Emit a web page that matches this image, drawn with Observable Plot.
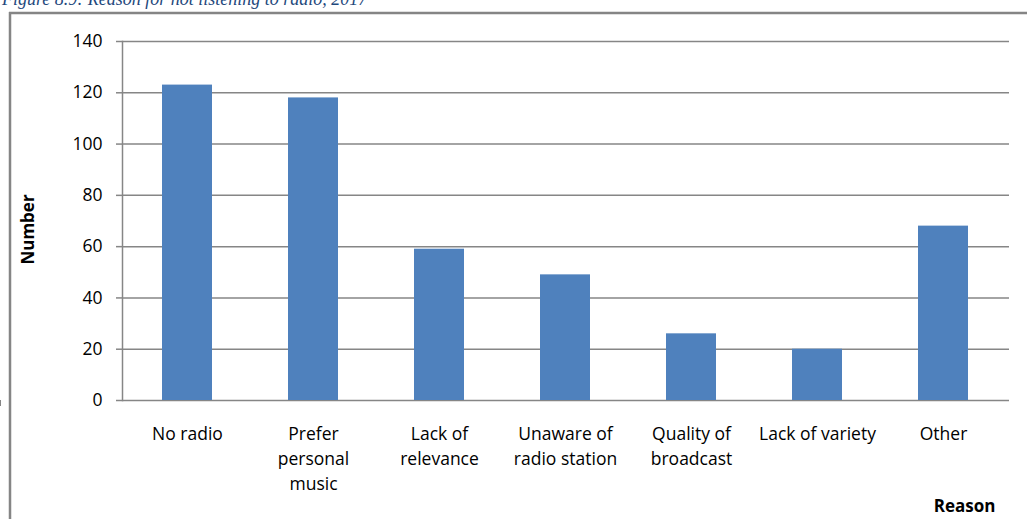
<!DOCTYPE html>
<html><head><meta charset="utf-8">
<script src="https://cdn.jsdelivr.net/npm/d3@7"></script>
<script src="https://cdn.jsdelivr.net/npm/@observablehq/plot@0.6"></script>
<style>
html,body{margin:0;padding:0;background:#fff}
#wrap{position:relative;width:1027px;height:519px;overflow:hidden}
#title{position:absolute;left:2px;top:-11px;line-height:20px;font-family:"Liberation Serif",serif;font-style:italic;font-size:18px;color:#1f497d;white-space:nowrap;z-index:3}
#chart{position:absolute;left:0;top:0;z-index:1}
</style></head><body>
<div id="wrap">
<div id="title">Figure 8.9: Reason for not listening to radio, 2017</div>
<div id="chart"></div>
</div>
<script>
const reasons = ["No radio", "Prefer\npersonal\nmusic", "Lack of\nrelevance", "Unaware of\nradio station", "Quality of\nbroadcast", "Lack of variety", "Other"];
const counts = [123, 118, 59, 49, 26, 20, 68];
const yTicks = [0, 20, 40, 60, 80, 100, 120, 140];
const yLabel = "Number";
const xLabel = "Reason";

const data = reasons.map((r, i) => ({reason: r, count: counts[i]}));
const GREY = "#868686";
const PAD_IN = 0.6;

function boundaryTicks(index, scales, values, dims) {
  const x = scales.x;
  const step = x(reasons[1]) - x(reasons[0]);
  const bw = x.bandwidth != null ? x.bandwidth : step * (1 - PAD_IN);
  const gap = step - bw;
  const y0 = dims.height - dims.marginBottom;
  const edges = reasons.map(r => x(r) - gap / 2);
  edges.push(x(reasons[reasons.length - 1]) + bw + gap / 2);
  const g = d3.create("svg:g");
  g.selectAll("line").data(edges).join("line")
    .attr("x1", d => d).attr("x2", d => d)
    .attr("y1", y0).attr("y2", y0 + 6)
    .attr("stroke", GREY).attr("stroke-width", 1.5);
  return g.node();
}

// outer chart-area border (left and top edges only, as in the source document)
function outerBorder(index, scales, values, dims) {
  const g = d3.create("svg:g");
  g.append("line").attr("x1", 10).attr("x2", 10).attr("y1", 12).attr("y2", dims.height)
    .attr("stroke", "#858585").attr("stroke-width", 2.5);
  g.append("line").attr("x1", 9).attr("x2", dims.width).attr("y1", 13).attr("y2", 13)
    .attr("stroke", "#858585").attr("stroke-width", 2.5);
  return g.node();
}

const chart = Plot.plot({
  width: 1027,
  height: 519,
  marginLeft: 122,
  marginRight: 18,
  marginTop: 41,
  marginBottom: 119,
  style: {fontFamily: "'Open Sans', sans-serif", fontSize: "17.5px", color: "black", background: "transparent"},
  x: {domain: reasons, paddingInner: PAD_IN, paddingOuter: PAD_IN / 2, label: null},
  y: {domain: [0, 140], label: null},
  marks: [
    Plot.gridY(yTicks, {stroke: GREY, strokeOpacity: 1, strokeWidth: 1.5}),
    Plot.frame({anchor: "left", stroke: GREY, strokeWidth: 1.5}),
    Plot.axisY(yTicks, {tickSize: 6, tickPadding: 14, stroke: GREY, strokeWidth: 1.5, fill: "black", label: null, tickFormat: d => String(d)}),
    Plot.axisX({tickSize: 0, tickPadding: 21.5, lineHeight: 1.43, fill: "black", label: null}),
    boundaryTicks,
    Plot.barY(data, {x: "reason", y: "count", fill: "#4f81bd"}),
    Plot.text([yLabel], {text: d => d, frameAnchor: "left", textAnchor: "middle", lineAnchor: "middle", rotate: -90, dx: -94, dy: 8.5, fontWeight: "bold", fontSize: 17, fill: "black"}),
    Plot.text([xLabel], {text: d => d, frameAnchor: "bottom-right", textAnchor: "middle", lineAnchor: "middle", dx: -45, dy: 106, fontWeight: "bold", fontSize: 17, fill: "black"}),
    outerBorder
  ]
});
document.getElementById("chart").appendChild(chart);
</script>
</body></html>
